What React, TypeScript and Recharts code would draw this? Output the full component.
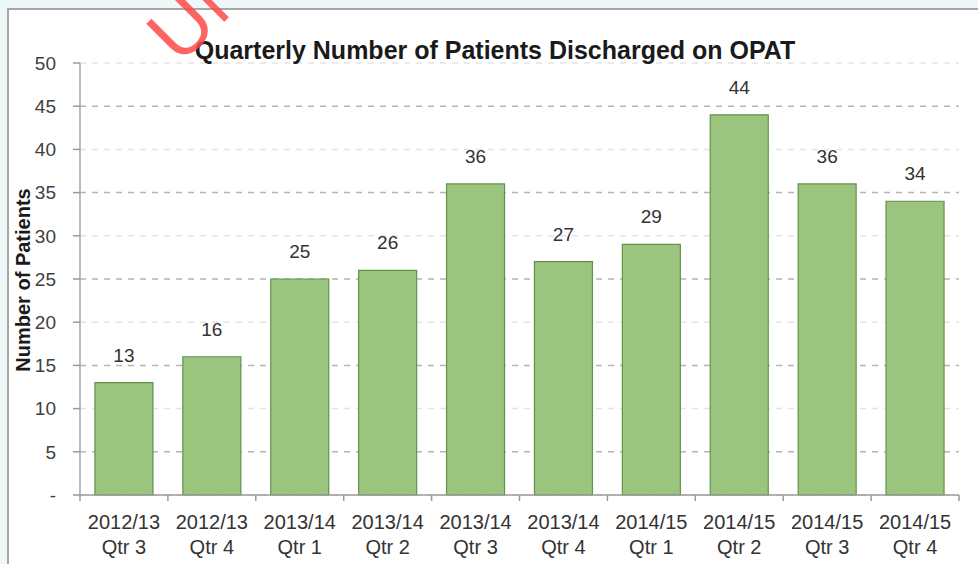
import { BarChart, Bar, XAxis, YAxis, CartesianGrid, LabelList } from "recharts";

const periods = [
  "2012/13",
  "2012/13",
  "2013/14",
  "2013/14",
  "2013/14",
  "2013/14",
  "2014/15",
  "2014/15",
  "2014/15",
  "2014/15",
];
const quarters = ["Qtr 3", "Qtr 4", "Qtr 1", "Qtr 2", "Qtr 3", "Qtr 4", "Qtr 1", "Qtr 2", "Qtr 3", "Qtr 4"];
const patients = [13, 16, 25, 26, 36, 27, 29, 44, 36, 34];
const yTicks = [0, 5, 10, 15, 20, 25, 30, 35, 40, 45, 50];

const data = periods.map((p, i) => ({
  label: `${p} ${quarters[i]}`,
  patients: patients[i],
}));

const FONT = "'Liberation Sans', Arial, sans-serif";

function CategoryTick(props: any) {
  const { x, y, payload, index } = props;
  const half = payload?.offset || 44;
  const text = String(payload.value);
  const cut = text.indexOf(" ");
  const top = text.slice(0, cut);
  const bottom = text.slice(cut + 1);
  const last = index === data.length - 1;
  return (
    <g>
      <line x1={x - half} y1={y} x2={x - half} y2={y + 6} stroke="#9a9a9a" strokeWidth={1.5} />
      {last && <line x1={x + half} y1={y} x2={x + half} y2={y + 6} stroke="#9a9a9a" strokeWidth={1.5} />}
      <text x={x} y={y + 34} textAnchor="middle" fill="#333" fontSize={20} fontFamily={FONT}>
        {top}
      </text>
      <text x={x} y={y + 59} textAnchor="middle" fill="#333" fontSize={20} fontFamily={FONT}>
        {bottom}
      </text>
    </g>
  );
}

function GridLine(props: any) {
  const { x1, y1, x2, y2, index } = props;
  const strong = index % 2 === 1;
  return (
    <line
      x1={x1}
      y1={y1}
      x2={x2}
      y2={y2}
      stroke={strong ? "#b4b4b4" : "#e4e4e4"}
      strokeWidth={1.5}
      strokeDasharray="6 6"
    />
  );
}

export default function App() {
  return (
    <div
      style={{
        position: "absolute",
        left: 0,
        top: 0,
        width: 978,
        height: 564,
        overflow: "hidden",
        background: "#eef8f8",
        fontFamily: FONT,
      }}
    >
      <div
        style={{
          position: "absolute",
          left: 7,
          top: 8,
          width: 1000,
          height: 600,
          background: "#fff",
          borderLeft: "2px solid #a6a6a6",
          borderTop: "2px solid #a6a6a6",
        }}
      />
      <div style={{ position: "absolute", left: 0, top: 0 }}>
        <BarChart
          width={978}
          height={564}
          data={data}
          margin={{ top: 63, right: 19, bottom: 0, left: 0 }}
          barCategoryGap="17%"
        >
          <CartesianGrid vertical={false} horizontal={(p: any) => <GridLine {...p} />} />
          <XAxis
            dataKey="label"
            interval={0}
            height={69}
            tickLine={false}
            tickSize={0}
            tickMargin={0}
            axisLine={{ stroke: "#9a9a9a", strokeWidth: 1.5 }}
            tick={<CategoryTick />}
          />
          <YAxis
            width={80}
            domain={[0, 50]}
            ticks={yTicks}
            interval={0}
            tickSize={7}
            tickMargin={17}
            tickLine={{ stroke: "#9a9a9a", strokeWidth: 1.5 }}
            axisLine={{ stroke: "#a6a6a6", strokeWidth: 1.5 }}
            tick={{ fill: "#404040", fontSize: 19, fontFamily: FONT }}
            tickFormatter={(v: number) => (v === 0 ? "-" : String(v))}
            label={{
              content: () => (
                <text
                  x={30}
                  y={280}
                  transform="rotate(-90 30 280)"
                  textAnchor="middle"
                  fontSize={20}
                  fontWeight="bold"
                  fill="#1a1a1a"
                  fontFamily={FONT}
                >
                  Number of Patients
                </text>
              ),
            }}
          />
          <Bar
            dataKey="patients"
            fill="#9bc47f"
            stroke="#62924a"
            strokeWidth={1.2}
            isAnimationActive={false}
          >
            <LabelList
              dataKey="patients"
              position="top"
              offset={21}
              fill="#333"
              fontSize={19}
              fontFamily={FONT}
            />
          </Bar>
          <text
            x={495}
            y={59}
            textAnchor="middle"
            fontSize={25}
            fontWeight="bold"
            fill="#1a1a1a"
            fontFamily={FONT}
          >
            Quarterly Number of Patients Discharged on OPAT
          </text>
        </BarChart>
      </div>
      <svg
        width={978}
        height={564}
        style={{ position: "absolute", left: 0, top: 0, pointerEvents: "none" }}
      >
        <text
          x={180}
          y={66}
          transform="rotate(-45 180 66)"
          fontSize={78}
          fill="#ff4a4a"
          opacity={0.85}
          fontFamily={FONT}
        >
          UNCONTROLLED
        </text>
      </svg>
    </div>
  );
}
